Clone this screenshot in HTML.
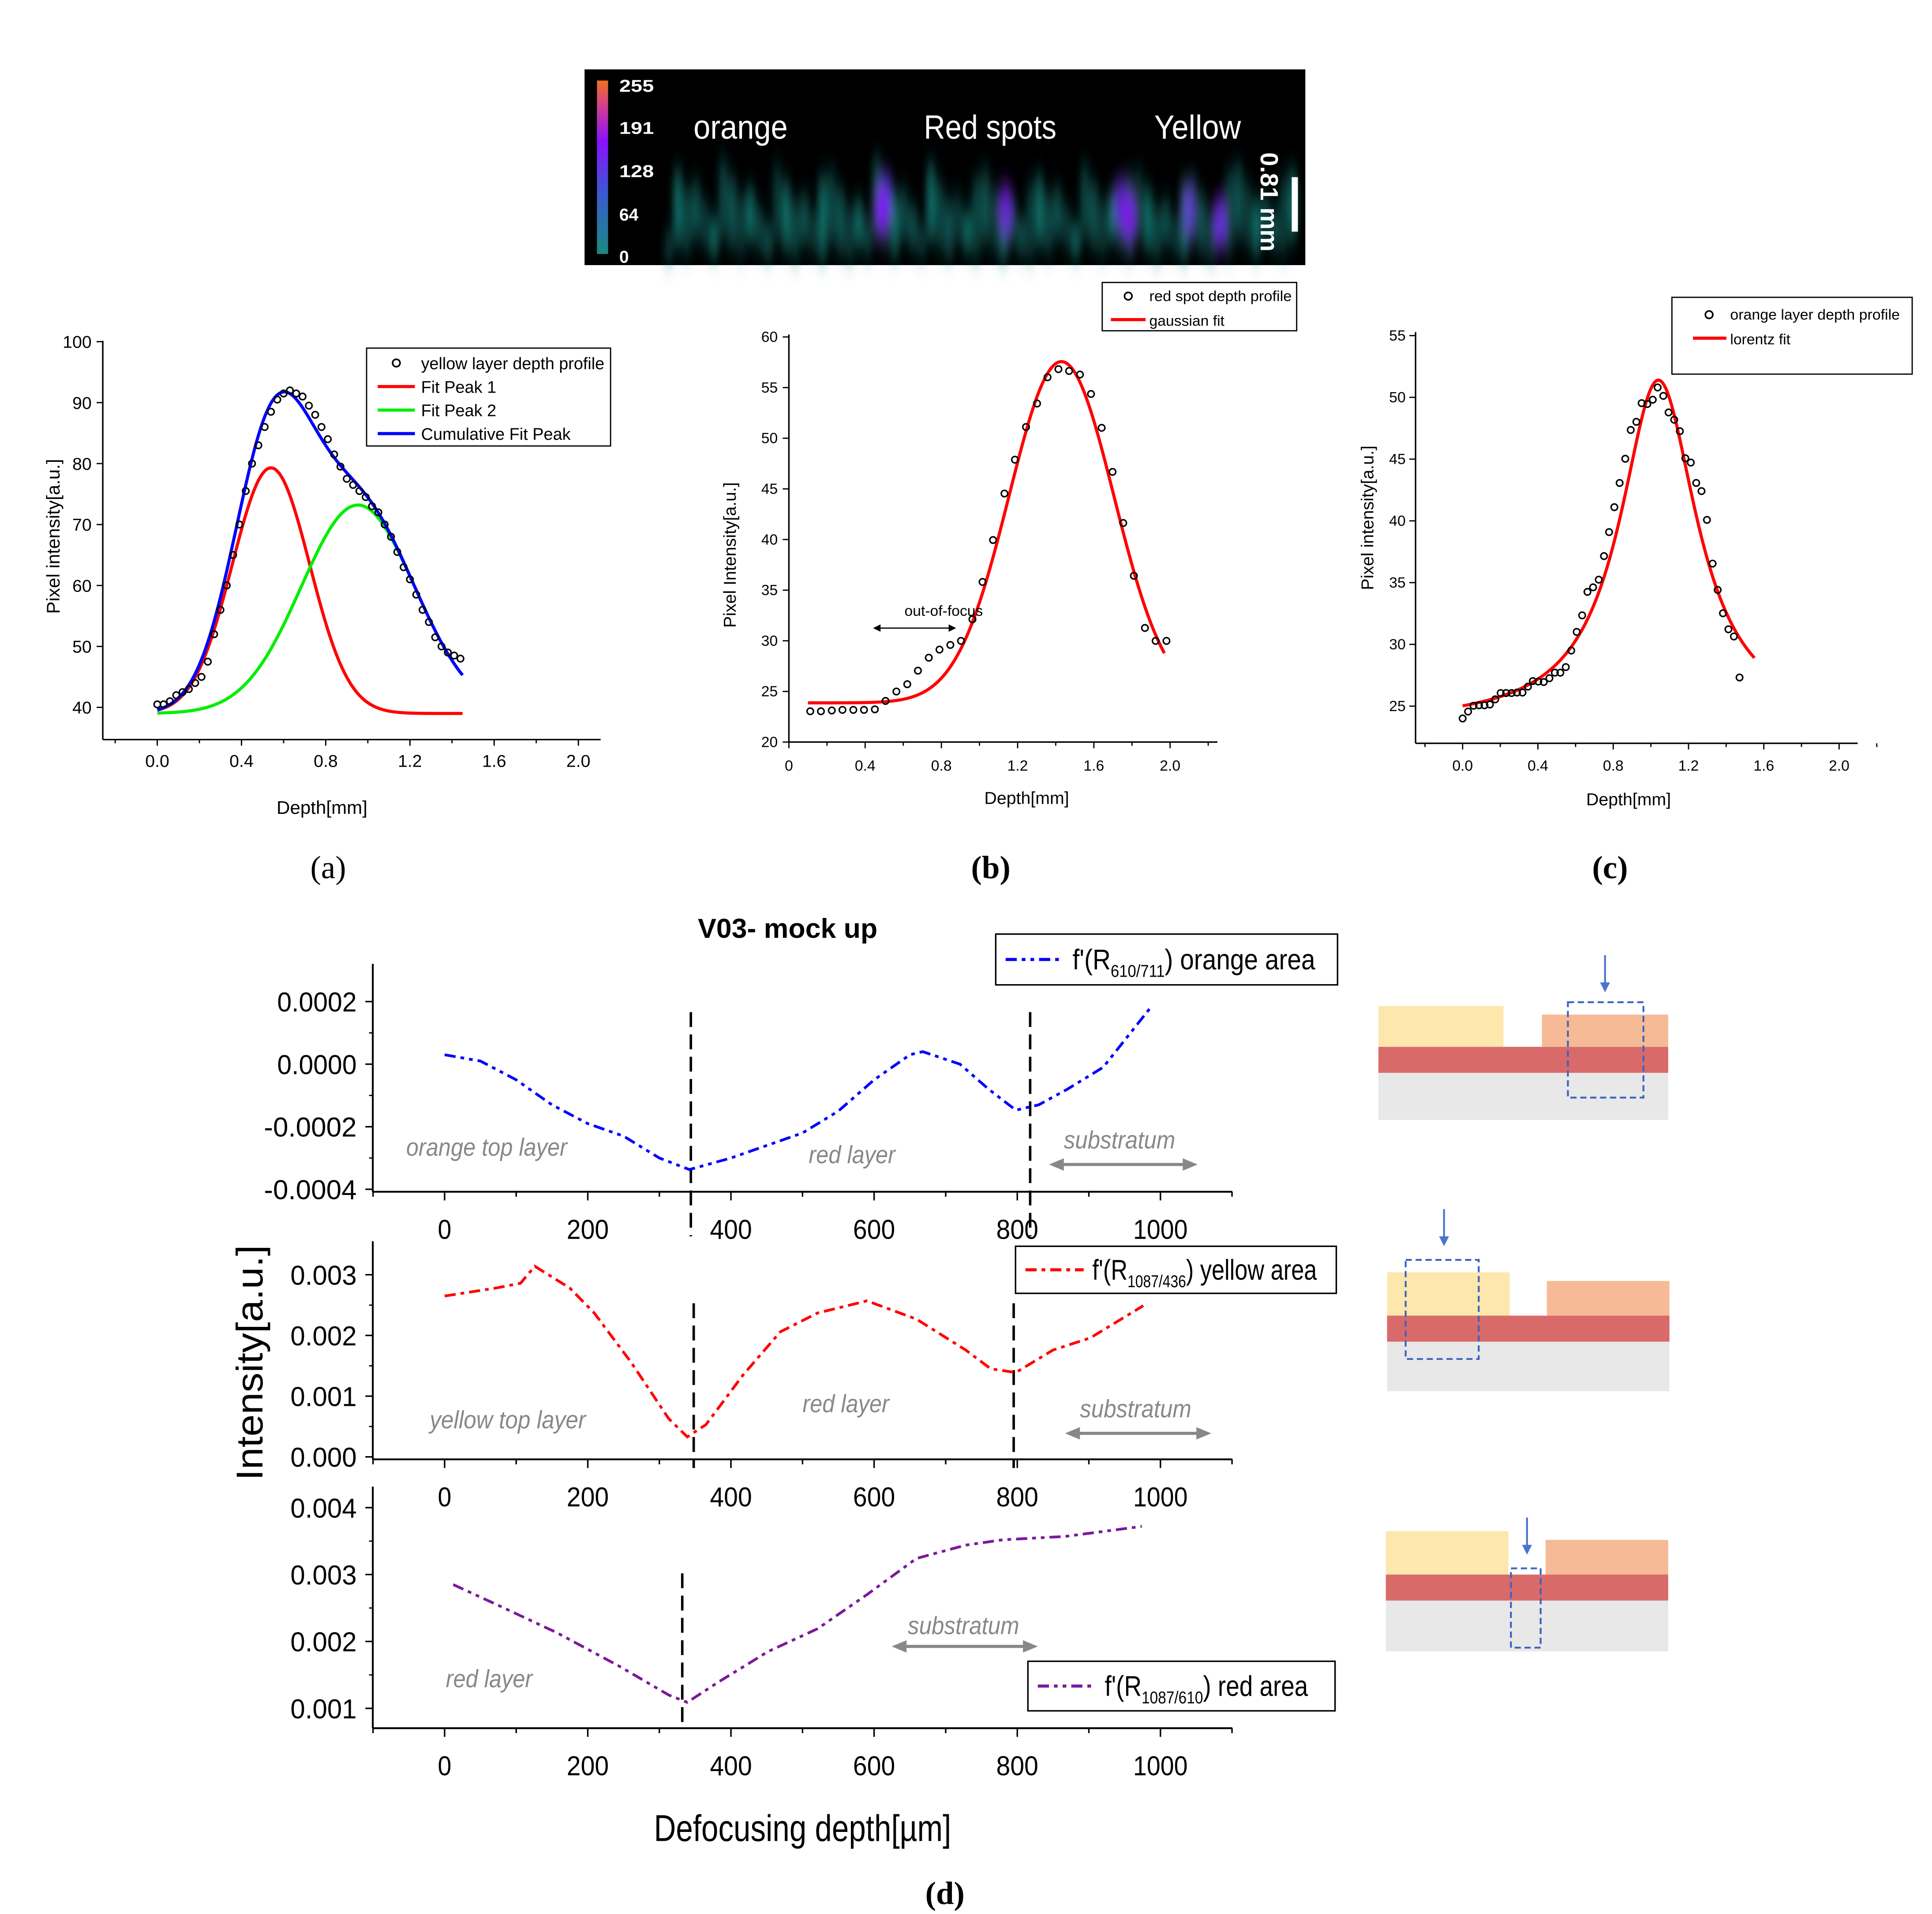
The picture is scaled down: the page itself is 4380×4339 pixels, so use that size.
<!DOCTYPE html>
<html><head><meta charset="utf-8">
<style>
html,body{margin:0;padding:0;background:#fff;}
svg{display:block;}
text{font-family:"Liberation Sans",sans-serif;}
</style></head>
<body>
<svg id="root" width="4380" height="4339" viewBox="0 0 1560 1545" preserveAspectRatio="none" xmlns="http://www.w3.org/2000/svg">
<defs>
<filter id="blr" x="-50%" y="-50%" width="200%" height="200%"><feGaussianBlur stdDeviation="3 9"/></filter>
<linearGradient id="cbar" x1="0" y1="1" x2="0" y2="0">
<stop offset="0" stop-color="#1a8a80"/><stop offset="0.35" stop-color="#3a5ad0"/><stop offset="0.65" stop-color="#8a10ff"/><stop offset="0.85" stop-color="#d04090"/><stop offset="1" stop-color="#f07020"/></linearGradient>
</defs>
<g id="heat">
<rect x="472" y="56" width="582" height="158" fill="#000"/>
<g id="blobs" filter="url(#blr)"></g>
<rect x="482" y="65" width="9" height="140" fill="url(#cbar)"/>
<g fill="#fff" font-size="14" font-weight="bold">
<text x="500" y="74" textLength="28" lengthAdjust="spacingAndGlyphs">255</text><text x="500" y="108" textLength="28" lengthAdjust="spacingAndGlyphs">191</text><text x="500" y="143" textLength="28" lengthAdjust="spacingAndGlyphs">128</text><text x="500" y="178">64</text><text x="500" y="212">0</text></g>
<g fill="#fff" font-size="27">
<text x="560" y="112" textLength="76" lengthAdjust="spacingAndGlyphs">orange</text>
<text x="746" y="112" textLength="107" lengthAdjust="spacingAndGlyphs">Red spots</text>
<text x="932" y="112" textLength="70" lengthAdjust="spacingAndGlyphs">Yellow</text></g>
<text transform="translate(1018,123) rotate(90)" fill="#fff" font-size="20" font-weight="bold">0.81 mm</text>
<rect x="1043" y="143" width="5" height="44" fill="#fff"/>
</g>
<g id="ca"></g><g id="cb"></g><g id="cc"></g><g id="cd"></g>
<g font-size="26">
<text x="265" y="709" text-anchor="middle" style="font-family:'Liberation Serif',serif">(a)</text>
<text x="800" y="709" text-anchor="middle" font-weight="bold" style="font-family:'Liberation Serif',serif">(b)</text>
<text x="1300" y="709" text-anchor="middle" font-weight="bold" style="font-family:'Liberation Serif',serif">(c)</text>
<text x="763" y="1537" text-anchor="middle" font-weight="bold" style="font-family:'Liberation Serif',serif">(d)</text>
</g>
<g id="schem"></g>
</svg>
<script>
// ---- data (a) ----
const aX=[0,0.03,0.06,0.09,0.12,0.15,0.18,0.21,0.24,0.27,0.3,0.33,0.36,0.39,0.42,0.45,0.48,0.51,0.54,0.57,0.6,0.63,0.66,0.69,0.72,0.75,0.78,0.81,0.84,0.87,0.9,0.93,0.96,0.99,1.02,1.05,1.08,1.11,1.14,1.17,1.2,1.23,1.26,1.29,1.32,1.35,1.38,1.41,1.44];
const aY=[40.5,40.5,41,42,42.5,43,44,45,47.5,52,56,60,65,70,75.5,80,83,86,88.5,90.5,91.5,92,91.5,91,89.5,88,86,84,81.5,79.5,77.5,76.5,75.5,74.5,73,72,70,68,65.5,63,61,58.5,56,54,51.5,50,49,48.5,48];
const aBase=[39];
const aPeak1=[0.54,40.3,0.184]; // center, amplitude, sigma
const aPeak2=[0.953,34.2,0.27];
// ---- data (b) ----
const bX=[0.112,0.168,0.225,0.281,0.338,0.394,0.451,0.507,0.564,0.621,0.677,0.734,0.79,0.847,0.903,0.963,1.016,1.071,1.131,1.186,1.244,1.302,1.357,1.414,1.47,1.527,1.585,1.641,1.698,1.754,1.81,1.868,1.924,1.981];
const bY=[23.04,23.04,23.12,23.18,23.18,23.18,23.23,24.06,24.99,25.71,27.05,28.33,29.13,29.59,29.99,32.12,35.81,39.95,44.54,47.88,51.11,53.43,56.02,56.82,56.64,56.29,54.37,51.03,46.68,41.63,36.42,31.27,29.99,29.99];
const bFit=[23.87,33.7,1.43,0.275]; // baseline, amp, center, sigma
// ---- data (c) ----
const cX=[0,0.029,0.058,0.087,0.116,0.145,0.173,0.202,0.231,0.26,0.289,0.318,0.347,0.373,0.402,0.431,0.461,0.49,0.519,0.548,0.577,0.606,0.635,0.663,0.693,0.723,0.751,0.778,0.806,0.834,0.864,0.893,0.923,0.951,0.981,1.01,1.036,1.066,1.094,1.124,1.154,1.183,1.212,1.241,1.269,1.298,1.328,1.355,1.383,1.412,1.441,1.471];
const cY=[24,24.56,25.03,25.07,25.07,25.13,25.55,26.06,26.06,26.06,26.1,26.1,26.58,27.03,26.99,26.95,27.26,27.71,27.71,28.16,29.5,31.01,32.35,34.25,34.62,35.24,37.15,39.09,41.11,43.07,45.03,47.36,48.02,49.53,49.46,49.81,50.8,50.12,48.78,48.19,47.26,45.07,44.72,43.07,42.41,40.08,36.54,34.41,32.52,31.22,30.64,27.32];
const cFit=[23.5,27.9,1.04,0.5]; // y0, amp, center, width
// ---- data (d) ----
const dTicksX=[0,200,400,600,800,1000];
const d1X=[0,50,100,150,200,250,300,342,400,450,500,550,600,650,668,720,760,798,830,870,920,988];
const d1Y=[0.00003,0.00001,-0.00005,-0.00013,-0.00019,-0.00023,-0.0003,-0.000337,-0.0003,-0.00026,-0.00022,-0.00015,-0.00005,0.00003,0.00004,0.0,-0.00008,-0.000147,-0.00013,-0.00008,-0.00001,0.000186];
const d1Ticks=[0.0002,0,-0.0002,-0.0004];
const d1TickLbl=["0.0002","0.0000","-0.0002","-0.0004"];
const d2X=[0,71,106,126,175,209,261,313,339,365,417,469,521,590,659,728,763,798,850,902,976];
const d2Y=[0.00265,0.00278,0.00286,0.00314,0.00278,0.00237,0.00155,0.00063,0.00033,0.00053,0.00135,0.00206,0.00237,0.00257,0.00227,0.00176,0.00145,0.00139,0.00176,0.00196,0.00249];
const d2Ticks=[0.003,0.002,0.001,0];
const d2TickLbl=["0.003","0.002","0.001","0.000"];
const d3X=[12,71,157,244,313,339,382,452,521,590,659,728,780,867,974];
const d3Y=[0.00285,0.00256,0.00213,0.00163,0.0012,0.00109,0.00139,0.00185,0.00219,0.0027,0.00324,0.00344,0.00352,0.00357,0.00372];
const d3Ticks=[0.004,0.003,0.002,0.001];
const d3TickLbl=["0.004","0.003","0.002","0.001"];
const d1Lines=[344,818], d2Lines=[348,795], d3Lines=[332];

const NS="http://www.w3.org/2000/svg";
function mk(p,t,at,txt){const e=document.createElementNS(NS,t);for(const k in at)e.setAttribute(k,at[k]);if(txt!==undefined)e.textContent=txt;p.appendChild(e);return e;}
function pathOf(xs,ys,fx,fy){return xs.map((x,i)=>(i?'L':'M')+fx(x).toFixed(2)+','+fy(ys[i]).toFixed(2)).join('');}

(function(){const g=document.getElementById('blobs');
 const cols=['#127a74','#1a9088','#0f6a66','#1c8f8a'];
 for(let i=0;i<70;i++){const x=540+i*7.3;const h=30+((i*37)%45);const c=cols[i%4];
  mk(g,'ellipse',{cx:x,cy:214-h/2-((i*13)%20),rx:3.2,ry:h/2,fill:c,opacity:0.55+((i*7)%4)*0.1});}
 [[715,160,'#5a40e0'],[712,170,'#8a10ff'],[812,170,'#7a20f0'],[905,165,'#6a30e8'],[912,175,'#8a10ff'],[960,170,'#6a40e0'],[985,180,'#7a20f0']].forEach(b=>{
  mk(g,'ellipse',{cx:b[0],cy:b[1],rx:6,ry:22,fill:b[2],opacity:0.8});});
})();

function axisText(g,x,y,t,sz,anchor,extra){return mk(g,'text',Object.assign({x:x,y:y,'font-size':sz,'text-anchor':anchor||'middle',fill:'#000'},extra||{}),t);}

// ---- Chart (a) ----
(function(){const g=document.getElementById('ca');
 const fx=x=>127+x*170, fy=v=>571-(v-40)*4.92;
 mk(g,'line',{x1:83,y1:275,x2:83,y2:597,stroke:'#000','stroke-width':1.2});
 mk(g,'line',{x1:83,y1:597,x2:485,y2:597,stroke:'#000','stroke-width':1.2});
 [0,0.4,0.8,1.2,1.6,2.0].forEach(t=>{mk(g,'line',{x1:fx(t),y1:597,x2:fx(t),y2:602,stroke:'#000'});axisText(g,fx(t),619,t.toFixed(1),14);});
 for(let t=-0.2;t<2.1;t+=0.2){mk(g,'line',{x1:fx(t),y1:597,x2:fx(t),y2:600,stroke:'#000'});}
 [40,50,60,70,80,90,100].forEach(t=>{mk(g,'line',{x1:78,y1:fy(t),x2:83,y2:fy(t),stroke:'#000'});axisText(g,74,fy(t)+5,String(t),14,'end');});
 axisText(g,260,657,'Depth[mm]',15);
 axisText(g,0,0,'Pixel intensity[a.u.]',15,'middle',{transform:'translate(48,433) rotate(-90)'});
 const g1=x=>aPeak1[1]*Math.exp(-Math.pow(x-aPeak1[0],2)/(2*aPeak1[2]*aPeak1[2]));
 const g2=x=>aPeak2[1]*Math.exp(-Math.pow(x-aPeak2[0],2)/(2*aPeak2[2]*aPeak2[2]));
 const xs=[];for(let x=0;x<=1.4501;x+=0.01)xs.push(x);
 let p=mk(g,'path',{d:pathOf(xs,xs.map(x=>aBase[0]+g1(x)),fx,fy),fill:'none',stroke:'#f00','stroke-width':2.5});
 p=mk(g,'path',{d:pathOf(xs,xs.map(x=>aBase[0]+g2(x)),fx,fy),fill:'none',stroke:'#0e0','stroke-width':2.5});
 p=mk(g,'path',{d:pathOf(xs,xs.map(x=>aBase[0]+g1(x)+g2(x)),fx,fy),fill:'none',stroke:'#00f','stroke-width':2.5});
 aX.forEach((x,i)=>{const c=mk(g,'circle',{cx:fx(x),cy:fy(aY[i]),r:2.6,fill:'none',stroke:'#000','stroke-width':1.2});});
 const L=mk(g,'g',{});
 mk(L,'rect',{x:296,y:281,width:197,height:79,fill:'#fff',stroke:'#000'});
 mk(L,'circle',{cx:320,cy:293,r:3,fill:'none',stroke:'#000','stroke-width':1.3});axisText(L,340,298,'yellow layer depth profile',13.5,'start',{textLength:148,lengthAdjust:'spacingAndGlyphs'});
 [['#f00','Fit Peak 1',312],['#0e0','Fit Peak 2',331],['#00f','Cumulative Fit Peak',350]].forEach(e=>{mk(L,'line',{x1:305,y1:e[2],x2:335,y2:e[2],stroke:e[0],'stroke-width':2.5});axisText(L,340,e[2]+5,e[1],13.5,'start');});
})();

// ---- Chart (b) ----
(function(){const g=document.getElementById('cb');
 const fx=x=>637+x*153.9, fy=v=>599-(v-20)*8.175;
 mk(g,'line',{x1:637,y1:270,x2:637,y2:599,stroke:'#000','stroke-width':1.2});
 mk(g,'line',{x1:637,y1:599,x2:983,y2:599,stroke:'#000','stroke-width':1.2});
 [0,0.4,0.8,1.2,1.6,2.0].forEach(t=>{mk(g,'line',{x1:fx(t),y1:599,x2:fx(t),y2:604,stroke:'#000'});axisText(g,fx(t),622,t===0?'0':t.toFixed(1),12);});
 for(let t=0.2;t<2.3;t+=0.4)mk(g,'line',{x1:fx(t),y1:599,x2:fx(t),y2:602,stroke:'#000'});
 [20,25,30,35,40,45,50,55,60].forEach(t=>{mk(g,'line',{x1:632,y1:fy(t),x2:637,y2:fy(t),stroke:'#000'});axisText(g,628,fy(t)+4,String(t),12,'end');});
 axisText(g,829,649,'Depth[mm]',14);
 axisText(g,0,0,'Pixel Intensity[a.u.]',14,'middle',{transform:'translate(594,448) rotate(-90)'});
 const xs=[];for(let x=0.1;x<=1.98;x+=0.01)xs.push(x);
 let p=mk(g,'path',{d:pathOf(xs,xs.map(x=>bFit[0]+bFit[1]*Math.exp(-Math.pow(x-bFit[2],2)/(2*bFit[3]*bFit[3]))),fx,fy),fill:'none',stroke:'#f00','stroke-width':2.5});
 bX.forEach((x,i)=>{const c=mk(g,'circle',{cx:fx(x),cy:fy(bY[i]),r:2.6,fill:'none',stroke:'#000','stroke-width':1.2});});
 axisText(g,762,497,'out-of-focus',12);
 mk(g,'line',{x1:707,y1:507,x2:770,y2:507,stroke:'#000','stroke-width':1});
 mk(g,'path',{d:'M705,507 l6,-3 v6z M772,507 l-6,-3 v6z',fill:'#000'});
 const L=mk(g,'g',{});
 mk(L,'rect',{x:890,y:228,width:157,height:39,fill:'#fff',stroke:'#000'});
 mk(L,'circle',{cx:911,cy:239,r:3,fill:'none',stroke:'#000','stroke-width':1.3});axisText(L,928,243,'red spot depth profile',12,'start',{textLength:115,lengthAdjust:'spacingAndGlyphs'});
 mk(L,'line',{x1:897,y1:258,x2:925,y2:258,stroke:'#f00','stroke-width':2.5});axisText(L,928,263,'gaussian fit',12,'start');
})();

// ---- Chart (c) ----
(function(){const g=document.getElementById('cc');
 const fx=x=>1181+x*152, fy=v=>570-(v-25)*9.97;
 mk(g,'line',{x1:1143,y1:268,x2:1143,y2:600,stroke:'#000','stroke-width':1.2});
 mk(g,'line',{x1:1143,y1:600,x2:1500,y2:600,stroke:'#000','stroke-width':1.2});
 [0,0.4,0.8,1.2,1.6,2.0].forEach(t=>{mk(g,'line',{x1:fx(t),y1:600,x2:fx(t),y2:605,stroke:'#000'});axisText(g,fx(t),622,t.toFixed(1),12);});
 for(let t=-0.2;t<2.2;t+=0.4)mk(g,'line',{x1:fx(t),y1:600,x2:fx(t),y2:603,stroke:'#000'});
 [25,30,35,40,45,50,55].forEach(t=>{mk(g,'line',{x1:1138,y1:fy(t),x2:1143,y2:fy(t),stroke:'#000'});axisText(g,1135,fy(t)+4,String(t),12,'end');});
 axisText(g,1315,650,'Depth[mm]',14);
 axisText(g,0,0,'Pixel intensity[a.u.]',14,'middle',{transform:'translate(1109,418) rotate(-90)'});
 const xs=[];for(let x=0;x<=1.555;x+=0.01)xs.push(x);
 let p=mk(g,'path',{d:pathOf(xs,xs.map(x=>cFit[0]+cFit[1]*cFit[3]*cFit[3]/(4*Math.pow(x-cFit[2],2)+cFit[3]*cFit[3])),fx,fy),fill:'none',stroke:'#f00','stroke-width':2.5});
 cX.forEach((x,i)=>{const c=mk(g,'circle',{cx:fx(x),cy:fy(cY[i]),r:2.6,fill:'none',stroke:'#000','stroke-width':1.2});});
 const L=mk(g,'g',{});
 mk(L,'rect',{x:1350,y:240,width:194,height:62,fill:'#fff',stroke:'#000'});
 mk(L,'circle',{cx:1380,cy:254,r:3,fill:'none',stroke:'#000','stroke-width':1.3});axisText(L,1397,258,'orange layer depth profile',12,'start',{textLength:137,lengthAdjust:'spacingAndGlyphs'});
 mk(L,'line',{x1:1367,y1:273,x2:1394,y2:273,stroke:'#f00','stroke-width':2.5});axisText(L,1397,278,'lorentz fit',12,'start');
})();

// ---- Chart (d) ----
(function(){const g=document.getElementById('cd');
 const fx=x=>359+x*0.578;
 axisText(g,636,757,'V03- mock up',22,'middle',{'font-weight':'bold',textLength:145,lengthAdjust:'spacingAndGlyphs'});
 function panel(name,top,axY,refV,refPy,pxPer,ticks,lbls,xs,ys,col,dash,lines,lineTop,lineBot,lblY,notes,arrow,leg){
  const P=mk(g,'g',{});
  const fy=v=>refPy-(v-refV)*pxPer;
  mk(P,'line',{x1:301,y1:top,x2:301,y2:axY,stroke:'#000','stroke-width':1.5});
  mk(P,'line',{x1:301,y1:axY,x2:995,y2:axY,stroke:'#000','stroke-width':1.5});
  for(let v=-100;v<=1100;v+=100)mk(P,'line',{x1:fx(v),y1:axY,x2:fx(v),y2:axY+(v%200===0?7:4),stroke:'#000','stroke-width':1.2});
  dTicksX.forEach(v=>axisText(P,fx(v),lblY,String(v),22,'middle',{textLength:v>=1000?44:(v?34:11),lengthAdjust:'spacingAndGlyphs'}));
  ticks.forEach((v,i)=>{mk(P,'line',{x1:295,y1:fy(v),x2:301,y2:fy(v),stroke:'#000','stroke-width':1.2});axisText(P,288,fy(v)+8,lbls[i],22,'end',{textLength:lbls[i].length*10.7,lengthAdjust:'spacingAndGlyphs'});});
  for(let i=0;i<ticks.length-1;i++){const m=(fy(ticks[i])+fy(ticks[i+1]))/2;mk(P,'line',{x1:298,y1:m,x2:301,y2:m,stroke:'#000'});}
  lines.forEach(v=>mk(P,'line',{x1:fx(v),y1:lineTop,x2:fx(v),y2:lineBot,stroke:'#000','stroke-width':2,'stroke-dasharray':'12,6'}));
  const s=mk(P,'path',{d:pathOf(xs,ys,fx,fy),fill:'none',stroke:col,'stroke-width':2.2,'stroke-dasharray':dash});
  notes.forEach(n=>axisText(P,n[1],n[2],n[0],20,'middle',{fill:'#888','font-style':'italic',textLength:n[3],lengthAdjust:'spacingAndGlyphs'}));
  mk(P,'line',{x1:arrow[0]+8,y1:arrow[2],x2:arrow[1]-8,y2:arrow[2],stroke:'#888','stroke-width':2.5});
  mk(P,'path',{d:`M${arrow[0]},${arrow[2]} l12,-5 v10z M${arrow[1]},${arrow[2]} l-12,-5 v10z`,fill:'#888'});
  const L=mk(P,'g',{});
  mk(L,'rect',{x:leg[0],y:leg[1],width:leg[2],height:leg[3],fill:'#fff',stroke:'#000','stroke-width':1.2});
  const my=leg[1]+leg[3]/2;
  mk(L,'line',{x1:leg[0]+8,y1:my,x2:leg[0]+55,y2:my,stroke:col,'stroke-width':2.5,'stroke-dasharray':dash});
  const tg=mk(L,'g',{transform:`translate(${leg[0]+62},${my+8}) scale(${leg[6]},1)`});
  const tx=mk(tg,'text',{x:0,y:0,'font-size':23,fill:'#000'});
  tx.appendChild(document.createTextNode("f'(R"));
  mk(tx,'tspan',{'font-size':14,dy:6},leg[4]);
  mk(tx,'tspan',{dy:-6},') '+leg[5]);
 }
 panel('orange-area-panel',778,962,0,859,252500,d1Ticks,d1TickLbl,d1X,d1Y,'#00f','9,4,3,4,3,4',d1Lines,817,998,1000,
   [['orange top layer',393,933,130],['red layer',688,939,70],['substratum',904,927,90]],[847,967,940],[804,754,276,41,'610/711','orange area',0.88]);
 panel('yellow-area-panel',1002,1178,0,1176,49000,d2Ticks,d2TickLbl,d2X,d2Y,'#f00','9,4,3,4',d2Lines,1052,1185,1216,
   [['yellow top layer',410,1153,126],['red layer',683,1140,70],['substratum',917,1144,90]],[860,978,1157],[820,1006,259,38,'1087/436','yellow area',0.81]);
 panel('red-area-panel',1200,1395,0.001,1379,54000,d3Ticks,d3TickLbl,d3X,d3Y,'#7a1a9a','9,4,3,4,3,4',d3Lines,1270,1395,1433,
   [['red layer',395,1362,70],['substratum',778,1319,90]],[720,838,1329],[830,1341,248,40,'1087/610','red area',0.85]);
 axisText(g,0,0,'Intensity[a.u.]',30,'middle',{transform:'translate(212,1100) rotate(-90)',textLength:190,lengthAdjust:'spacingAndGlyphs'});
 axisText(g,648,1486,'Defocusing depth[\u00b5m]',30,'middle',{textLength:240,lengthAdjust:'spacingAndGlyphs'});
})();

// ---- schematics ----
(function(){const g=document.getElementById('schem');
 const S=[[1113,812,1214,1245,819,845,866,904,1266,809,61,77,1296,771],
          [1120,1027,1219,1249,1034,1062,1083,1123,1135,1017,59,80,1166,976],
          [1119,1236,1218,1248,1243,1271,1292,1333,1220,1266,24,64,1233,1225]];
 S.forEach((s,i)=>{const G=mk(g,'g',{});
  const x0=s[0],x1=x0+234-(i?6:0);
  mk(G,'rect',{x:x0,y:s[6],width:x1-x0,height:s[7]-s[6],fill:'#e8e8e8'});
  mk(G,'rect',{x:x0,y:s[5],width:x1-x0,height:s[6]-s[5],fill:'#d96a6a'});
  mk(G,'rect',{x:x0,y:s[1],width:s[2]-x0,height:s[5]-s[1],fill:'#fde7ad'});
  mk(G,'rect',{x:s[3],y:s[4],width:x1-s[3],height:s[5]-s[4],fill:'#f6bb96'});
  mk(G,'rect',{x:s[8],y:s[9],width:s[10],height:s[11],fill:'none',stroke:'#3a64c0','stroke-width':1.5,'stroke-dasharray':'5,3'});
  mk(G,'line',{x1:s[12],y1:s[13],x2:s[12],y2:s[13]+24,stroke:'#4a74d0','stroke-width':1.5});
  mk(G,'path',{d:`M${s[12]},${s[13]+30} l-4,-8 h8z`,fill:'#4a74d0'});
 });
})();
</script>
</body></html>
